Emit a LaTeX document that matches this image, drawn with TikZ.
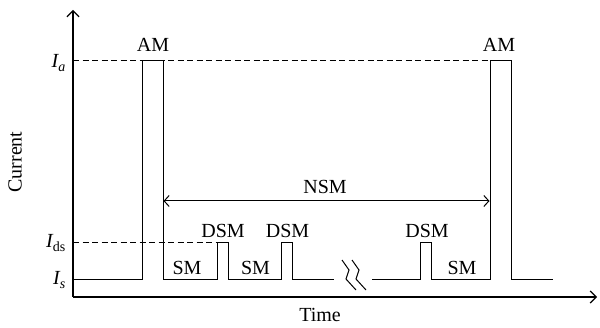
\documentclass[tikz,border=0pt]{standalone}
\usepackage{fontspec}
\setmainfont{Liberation Serif}
\usetikzlibrary{arrows.meta}
\begin{document}
\begin{tikzpicture}[x=1pt,y=-1pt,
  lbl/.style={font=\fontsize{20}{24}\selectfont, inner sep=0pt, anchor=base},
  axis/.style={line width=1.2pt, -{Straight Barb[length=6pt,width=12pt]}},
  wave/.style={line width=1pt, line join=miter},
  lvl/.style={line width=1pt, dash pattern=on 6pt off 3.5pt},
  span/.style={line width=1pt, {Straight Barb[length=5pt,width=11pt]}-{Straight Barb[length=5pt,width=11pt]}}]
\useasboundingbox (0,0) rectangle (600,328);
% axes
\coordinate (O) at (73,297);
\coordinate (ytop) at (73,10);
\coordinate (xend) at (597,297);
\draw[axis] (O) -- (ytop);
\draw[axis] (O) -- (xend);
% level lines
\draw[lvl] (73,61) -- (511,61);
\draw[lvl] (73,243) -- (217,243);
% waveform
\draw[wave] (73,280) -- (142,280) -- (142,61) -- (163,61) -- (163,280)
  -- (217,280) -- (217,243) -- (228,243) -- (228,280)
  -- (281.7,280) -- (281.7,243) -- (292.3,243) -- (292.3,280) -- (334,280);
\draw[wave] (372,280) -- (420,280) -- (420,243) -- (431,243) -- (431,280)
  -- (490,280) -- (490,61) -- (511,61) -- (511,280) -- (553,280);
% break marks
\draw[line width=1pt] (342,260) -- (349,270) -- (346,279) -- (356,290);
\draw[line width=1pt] (352,260) -- (359,270) -- (356,279) -- (366,290);
% NSM span
\coordinate (nl) at (163.5,201);
\coordinate (nr) at (489.5,201);
\draw[span] (nl) -- (nr);
% labels
\node[lbl] (am1) at (153,52) {AM};
\node[lbl] (am2) at (499,52) {AM};
\node[lbl] (nsm) at (325,193.3) {NSM};
\node[lbl] (dsm1) at (223,238) {DSM};
\node[lbl] (dsm2) at (287.5,238) {DSM};
\node[lbl] (dsm3) at (427,238) {DSM};
\node[lbl] (sm1) at (187,275) {SM};
\node[lbl] (sm2) at (255.5,275) {SM};
\node[lbl] (sm3) at (462,275) {SM};
\node[lbl] (time) at (320,322) {Time};
\node[lbl, anchor=center, rotate=90] (cur) at (15,162) {Current};
\node[lbl, anchor=base east] (ia) at (66,68) {\itshape I\textsubscript{a}};
\node[lbl, anchor=base east] (ids) at (66,248) {\itshape I\textsubscript{\upshape ds}};
\node[lbl, anchor=base east] (is) at (66,285) {\itshape I\textsubscript{s}};
\end{tikzpicture}
\end{document}
